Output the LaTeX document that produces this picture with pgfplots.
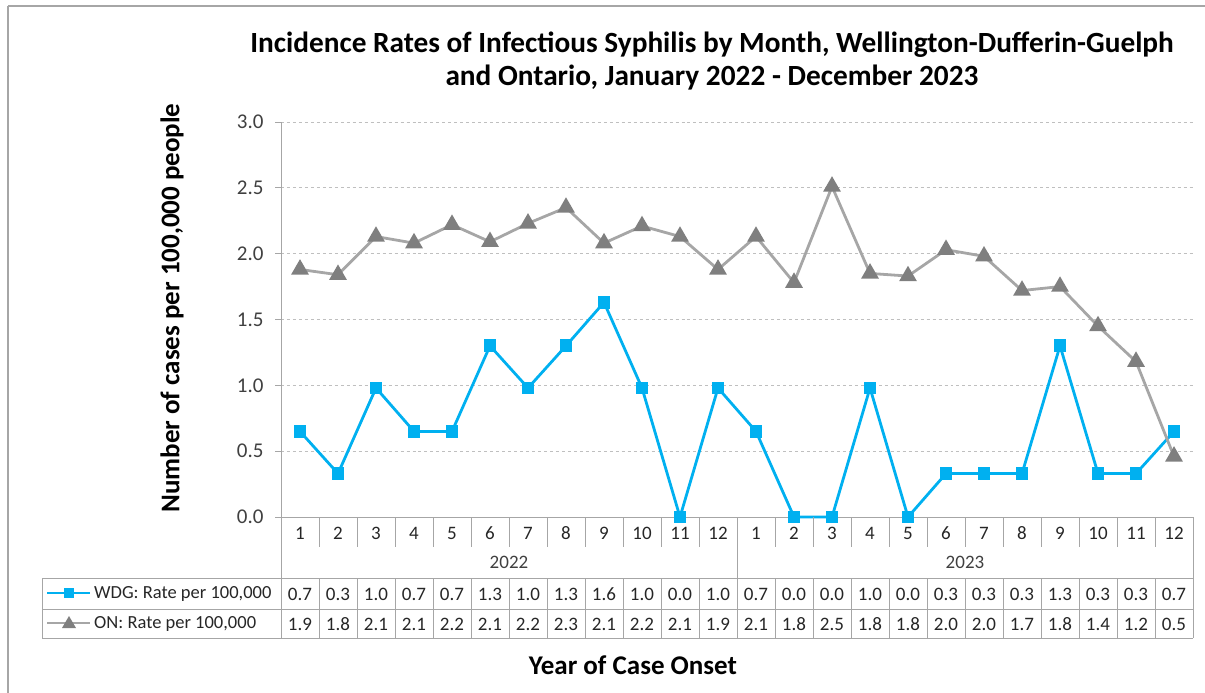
\documentclass[border=0pt]{standalone}
\usepackage{pgfplots}
\pgfplotsset{compat=1.18}
\usepackage{fontspec}
\setmainfont{Carlito}
\definecolor{wdg}{HTML}{00B0F0}
\definecolor{online}{HTML}{A6A6A6}
\definecolor{onmark}{HTML}{7F7F7F}
\definecolor{gridc}{HTML}{BFBFBF}
\definecolor{axc}{HTML}{A6A6A6}
\definecolor{txt}{HTML}{404040}
\definecolor{tbl}{HTML}{262626}
\begin{document}
\begin{tikzpicture}
\begin{scope}[x=1bp,y=-1bp]
\path[use as bounding box] (0,0) rectangle (1205,693);
\draw[axc, line width=1.2bp] (8,6) -- (1205,6);
\draw[axc, line width=1.2bp] (8,6) -- (8,693);
\end{scope}
\begin{axis}[
  at={(281bp,-517bp)}, anchor=south west,
  scale only axis, width=912bp, height=395bp,
  xmin=0.5, xmax=24.5, ymin=0, ymax=3,
  clip=false,
  axis x line*=bottom, axis y line*=left,
  axis line style={axc, line width=1bp, -},
  ytick={0,0.5,1,1.5,2,2.5,3},
  yticklabel={\pgfmathprintnumber[fixed,fixed zerofill,precision=1]{\tick}},
  /pgf/number format/assume math mode=true,
  yticklabel style={font=\fontsize{21bp}{24bp}\selectfont, text=txt, xshift=-8bp},
  ytick style={axc, line width=1bp},
  tick align=outside, major tick length=6bp,
  xtick={1,...,24},
  xticklabels={1,2,3,4,5,6,7,8,9,10,11,12,1,2,3,4,5,6,7,8,9,10,11,12},
  xtick style={draw=none},
  xticklabel style={font=\fontsize{19bp}{22bp}\selectfont, text=tbl, anchor=center, yshift=-10bp},
  ymajorgrids, grid style={dashed, gridc, line width=0.8bp},
]
\addplot[wdg, line width=2.8bp, mark=square*, mark size=5bp, mark options={solid, fill=wdg, draw=wdg}]
coordinates {(1,0.65)(2,0.33)(3,0.98)(4,0.65)(5,0.65)(6,1.30)(7,0.98)(8,1.30)(9,1.63)(10,0.98)(11,0)(12,0.98)
(13,0.65)(14,0)(15,0)(16,0.98)(17,0)(18,0.33)(19,0.33)(20,0.33)(21,1.30)(22,0.33)(23,0.33)(24,0.65)};
\addplot[online, line width=2.8bp, mark=triangle*, mark size=7.5bp, mark options={solid, fill=onmark, draw=onmark}]
coordinates {(1,1.88)(2,1.84)(3,2.13)(4,2.08)(5,2.22)(6,2.09)(7,2.23)(8,2.35)(9,2.08)(10,2.21)(11,2.13)(12,1.88)
(13,2.13)(14,1.78)(15,2.51)(16,1.85)(17,1.83)(18,2.03)(19,1.98)(20,1.72)(21,1.75)(22,1.45)(23,1.18)(24,0.46)};
\end{axis}
\begin{scope}[x=1bp,y=-1bp]
% table lines
\begin{scope}[axc, line width=1bp]
\draw (281,517) -- (281,638);
\draw (1193,517) -- (1193,638);
\foreach \k in {1,...,23} { \draw ({281+38*\k},517) -- ({281+38*\k},547); }
\draw (737,517) -- (737,578);
\draw (42,578) -- (1193,578);
\draw (42,609) -- (1193,609);
\draw (42,638) -- (1193,638);
\draw (42,578) -- (42,638);
\foreach \k in {1,...,23} { \draw ({281+38*\k},578) -- ({281+38*\k},638); }
\end{scope}
\node[font=\fontsize{19bp}{22bp}\selectfont, text=txt] at (509,562) {2022};
\node[font=\fontsize{19bp}{22bp}\selectfont, text=txt] at (965,562) {2023};
\foreach \v [count=\i] in {0.7,0.3,1.0,0.7,0.7,1.3,1.0,1.3,1.6,1.0,0.0,1.0,0.7,0.0,0.0,1.0,0.0,0.3,0.3,0.3,1.3,0.3,0.3,0.7}
  { \node[font=\fontsize{19bp}{22bp}\selectfont, text=tbl] at ({281+38*\i-19},594) {\v}; }
\foreach \v [count=\i] in {1.9,1.8,2.1,2.1,2.2,2.1,2.2,2.3,2.1,2.2,2.1,1.9,2.1,1.8,2.5,1.8,1.8,2.0,2.0,1.7,1.8,1.4,1.2,0.5}
  { \node[font=\fontsize{19bp}{22bp}\selectfont, text=tbl] at ({281+38*\i-19},624) {\v}; }
% legend keys
\draw[wdg, line width=2.8bp] (47,593) -- (90,593);
\fill[wdg] (64,588) rectangle (74,598);
\node[anchor=west, font=\fontsize{18.5bp}{22bp}\selectfont, text=tbl, inner sep=0pt] at (94,594) {WDG: Rate per 100,000};
\draw[online, line width=2.8bp] (47,623) -- (90,623);
\fill[onmark] (62,628) -- (76,628) -- (69,616) -- cycle;
\node[anchor=west, font=\fontsize{18.5bp}{22bp}\selectfont, text=tbl, inner sep=0pt] at (94,624) {ON: Rate per 100,000};
% titles
\node[font=\fontsize{29.3bp}{33bp}\selectfont\bfseries] at (712,45) {Incidence Rates of Infectious Syphilis by Month, Wellington-Dufferin-Guelph};
\node[font=\fontsize{29.3bp}{33bp}\selectfont\bfseries] at (712,78) {and Ontario, January 2022 - December 2023};
\node[rotate=90, font=\fontsize{27bp}{31bp}\selectfont\bfseries] at (172,308) {Number of cases per 100,000 people};
\node[font=\fontsize{27bp}{31bp}\selectfont\bfseries] at (633,665) {Year of Case Onset};
\end{scope}
\end{tikzpicture}
\end{document}
